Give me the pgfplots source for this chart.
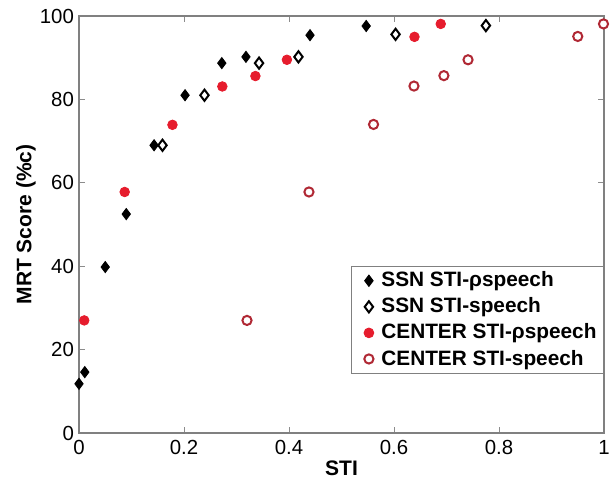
\documentclass[border=0pt]{standalone}
\usepackage{fontspec}
\setmainfont{Liberation Sans}
\usepackage{pgfplots}
\pgfplotsset{compat=1.18}
\definecolor{redfill}{RGB}{230,28,45}
\definecolor{redring}{RGB}{176,40,52}
\begin{document}
\begin{tikzpicture}
\begin{axis}[
  scale only axis, width=262.5pt, height=208.5pt,
  xmin=0, xmax=1, ymin=0, ymax=100,
  xtick={0,0.2,0.4,0.6,0.8,1}, xticklabels={0,0.2,0.4,0.6,0.8,1},
  ytick={0,20,40,60,80,100},
  tick align=inside, major tick length=3pt,
  tick style={black!45, line width=0.5pt},
  axis line style={black!50, line width=0.7pt},
  /pgf/number format/assume math mode=true,
  tick label style={font=\fontsize{10.2}{12}\selectfont},
  yticklabel style={xshift=1pt},
  xlabel={\textbf{STI}}, ylabel={\textbf{MRT Score (\%c)}},
  label style={font=\fontsize{10.5}{12}\selectfont},
  xlabel style={at={(axis description cs:0.5,-0.084)}, anchor=center},
  ylabel style={at={(axis description cs:-0.101,0.5)}, anchor=center},
  clip=false,
  legend style={at={(1,0.40)}, anchor=north east, draw=black!50, line width=0.5pt,
    font=\bfseries\fontsize{10.4}{12}\selectfont, inner xsep=1.5pt, inner ysep=0.5pt},
  legend image code/.code={\path (0,0) (0.39cm,0); \draw[#1] plot coordinates {(0.25cm,0cm)};},
  legend cell align=left,
]
\addplot[only marks, mark=diamond*, mark size=2.8pt, draw=black, fill=black] coordinates {
(0,11.8) (0.011,14.6) (0.05,39.8) (0.09,52.5) (0.143,69) (0.202,81) (0.272,88.7) (0.318,90.2) (0.44,95.4) (0.547,97.6)};
\addlegendentry{SSN STI-ρspeech}
\addplot[only marks, mark=diamond*, mark size=2.8pt, mark options={draw=black, fill=white, line width=1pt}] coordinates {
(0.159,69) (0.239,81) (0.343,88.7) (0.418,90.2) (0.603,95.6) (0.775,97.7)};
\addlegendentry{SSN STI-speech}
\addplot[only marks, mark=*, mark size=2.4pt, mark options={draw=redfill, fill=redfill}] coordinates {
(0.010,27) (0.087,57.8) (0.178,73.9) (0.273,83.1) (0.336,85.6) (0.396,89.5) (0.639,95.0) (0.689,98.1)};
\addlegendentry{CENTER STI-ρspeech}
\addplot[only marks, mark=*, mark size=2.3pt, mark options={draw=redring, fill=white, line width=1pt}] coordinates {
(0.32,27) (0.438,57.8) (0.561,74) (0.638,83.2) (0.695,85.7) (0.741,89.5) (0.950,95.1) (0.999,98.1)};
\addlegendentry{CENTER STI-speech}
\end{axis}
\pgfresetboundingbox
\path ([xshift=-39.5pt,yshift=-22.5pt]current axis.south west) rectangle ([xshift=4.5pt,yshift=8pt]current axis.north east);
\end{tikzpicture}
\end{document}
